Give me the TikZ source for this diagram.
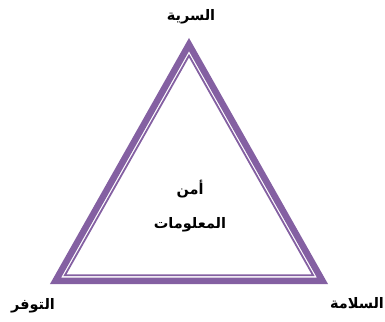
\documentclass[tikz,border=0pt]{standalone}
\usepackage{fontspec}
\newfontfamily\arabicfont[Script=Arabic]{DejaVu Sans}
\TeXXeTstate=1
\usetikzlibrary{calc}

\definecolor{triPurple}{RGB}{132,96,162}

\begin{document}
\begin{tikzpicture}[
    x=1pt, y=-1pt,
    every node/.style={font=\arabicfont\bfseries\fontsize{14.5}{17}\selectfont, inner sep=0pt},
    band/.style={draw=triPurple, line width=6.5pt, line join=miter},
    rim/.style={draw=triPurple, line width=1.8pt, line join=miter},
]
    \useasboundingbox (0,0) rectangle (385,321);

    % outer corners of the triangle
    \coordinate (apex) at (189,38);
    \coordinate (left) at (50,284);
    \coordinate (right) at (328,284);
    \coordinate (mid) at (189,202.9);

    % thick band and thin inner line
    \draw[band] ($(mid)!0.960!(apex)$) -- ($(mid)!0.960!(left)$) -- ($(mid)!0.960!(right)$) -- cycle;
    \draw[rim] ($(mid)!0.893!(apex)$) -- ($(mid)!0.893!(left)$) -- ($(mid)!0.893!(right)$) -- cycle;

    \node (conf) at (191,17) {\beginR السرية\endR};
    \node (avail) at (33,306) {\beginR التوفر\endR};
    \node (integ) at (357,303) {\beginR السلامة\endR};

    \node (sec) at (190,189) {\beginR أمن\endR};
    \node (info) at (190,225) {\beginR المعلومات\endR};
\end{tikzpicture}
\end{document}
